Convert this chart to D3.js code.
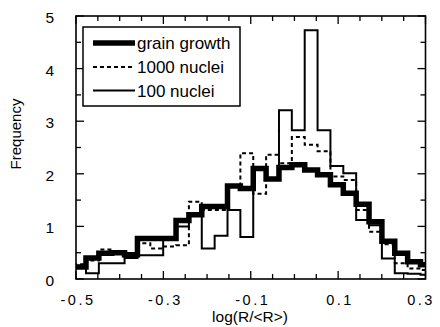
<!DOCTYPE html>
<html>
<head>
<meta charset="utf-8">
<script src="https://cdn.jsdelivr.net/npm/d3@7"></script>
<style>
  html, body { margin: 0; padding: 0; background: #fff; }
  svg { display: block; font-family: "Liberation Sans", Arial, Helvetica, sans-serif; }
</style>
</head>
<body>
<svg id="chart" width="440" height="327"></svg>
<script>
// Histogram bin layout (log(R/<R>) units)
const binStart = -0.5066;
const binWidth = 0.02945;

// Frequency per bin for each run
const grainGrowth = [0.23, 0.40, 0.49, 0.50, 0.46, 0.77, 0.77, 0.77, 1.11, 1.22,
                     1.38, 1.38, 1.77, 1.72, 2.10, 1.90, 2.12, 2.17, 2.07, 1.98,
                     1.79, 1.63, 1.42, 1.09, 0.72, 0.49, 0.33, 0.27];
const nuclei1000  = [0.28, 0.35, 0.56, 0.48, 0.42, 0.68, 0.58, 0.62, 0.64, 1.47,
                     1.31, 1.31, 1.78, 2.39, 1.62, 2.36, 2.20, 2.70, 2.55, 2.43,
                     1.95, 1.88, 1.31, 0.90, 0.66, 0.30, 0.20, 0.17];
const nuclei100   = [0.25, 0.11, 0.30, 0.30, 0.40, 0.45, 0.45, 0.76, 1.00, 1.25,
                     0.58, 0.82, 1.31, 0.80, 2.07, 1.90, 3.21, 2.83, 4.73, 2.83,
                     2.15, 2.01, 1.12, 1.02, 0.39, 0.11, 0.10, 0.08];

const seriesNames = ["grain growth", "1000 nuclei", "100 nuclei"];

// Axis ticks and labels
const xMinorTicks = [-0.45, -0.4, -0.35, -0.25, -0.2, -0.15, -0.05, 0, 0.05, 0.15, 0.2, 0.25];
const xMajorTicks = [-0.5, -0.3, -0.1, 0.1, 0.3];
const xTickLabels = ["-0.5", "-0.3", "-0.1", "0.1", "0.3"];
const yMajorTicks = [0, 1, 2, 3, 4, 5];
const yMinorTicks = [0.5, 1.5, 2.5, 3.5, 4.5];
const yTickLabels = ["0", "1", "2", "3", "4", "5"];

const svg = d3.select("#chart");
const plotL = 76, plotT = 16, plotR = 425.5, plotB = 279;

const x = d3.scaleLinear().domain([-0.5, 0.3]).range([plotL, plotR]);
const y = d3.scaleLinear().domain([0, 5]).range([plotB, plotT]);

svg.append("defs").append("clipPath").attr("id", "plotClip")
  .append("rect")
  .attr("x", plotL).attr("y", plotT)
  .attr("width", plotR - plotL).attr("height", plotB - plotT);

// Step outline of a histogram: left edge of each bin, plus the final right edge
function stepPoints(values) {
  const pts = values.map((v, i) => [binStart + i * binWidth, v]);
  pts.push([binStart + values.length * binWidth, values[values.length - 1]]);
  return pts;
}
const stepLine = d3.line()
  .x(d => x(d[0]))
  .y(d => y(d[1]))
  .curve(d3.curveStepAfter);

const plot = svg.append("g").attr("clip-path", "url(#plotClip)");

const styles = [
  { data: nuclei100,   width: 2,   dash: null },
  { data: nuclei1000,  width: 2,   dash: "4,3" },
  { data: grainGrowth, width: 5.5, dash: null }
];
styles.forEach(s => {
  plot.append("path")
    .attr("d", stepLine(stepPoints(s.data)))
    .attr("fill", "none")
    .attr("stroke", "#000")
    .attr("stroke-width", s.width)
    .attr("stroke-dasharray", s.dash)
    .attr("stroke-linejoin", "miter");
});

// Inward ticks on all four sides
const tickG = svg.append("g").attr("stroke", "#000").attr("stroke-width", 1.3);
function xTicks(vals, len) {
  vals.forEach(v => {
    tickG.append("line").attr("x1", x(v)).attr("x2", x(v)).attr("y1", plotB).attr("y2", plotB - len);
    tickG.append("line").attr("x1", x(v)).attr("x2", x(v)).attr("y1", plotT).attr("y2", plotT + len);
  });
}
function yTicks(vals, len) {
  vals.forEach(v => {
    tickG.append("line").attr("x1", plotL).attr("x2", plotL + len).attr("y1", y(v)).attr("y2", y(v));
    tickG.append("line").attr("x1", plotR).attr("x2", plotR - len).attr("y1", y(v)).attr("y2", y(v));
  });
}
xTicks(xMinorTicks, 5);
xTicks(xMajorTicks, 8);
yTicks(yMinorTicks, 5);
yTicks(yMajorTicks, 8);

// Frame
svg.append("rect")
  .attr("x", plotL).attr("y", plotT)
  .attr("width", plotR - plotL).attr("height", plotB - plotT)
  .attr("fill", "none").attr("stroke", "#000").attr("stroke-width", 1.6);

// Tick labels (the last one is nudged inward so it stays on the canvas)
svg.append("g").selectAll("text").data(xMajorTicks).join("text")
  .attr("x", d => Math.min(x(d) + 2, 421))
  .attr("y", 305)
  .attr("text-anchor", "middle")
  .attr("font-size", 14.5)
  .attr("letter-spacing", 2.5)
  .text((d, i) => xTickLabels[i]);

svg.append("g").selectAll("text").data(yMajorTicks).join("text")
  .attr("x", 54)
  .attr("y", d => y(d) + 7)
  .attr("text-anchor", "end")
  .attr("font-size", 15.5)
  .text((d, i) => yTickLabels[i]);

// Axis titles
svg.append("text")
  .attr("x", 250).attr("y", 322)
  .attr("text-anchor", "middle")
  .attr("font-size", 15.5)
  .text("log(R/<R>)");

svg.append("text")
  .attr("transform", "translate(21,134) rotate(-90)")
  .attr("text-anchor", "middle")
  .attr("font-size", 15)
  .text("Frequency");

// Legend
const legend = svg.append("g");
legend.append("rect")
  .attr("x", 83).attr("y", 27).attr("width", 157).attr("height", 79)
  .attr("fill", "#fff").attr("stroke", "#000").attr("stroke-width", 1.5);
const legendRows = [43, 67, 90.5];
const legendStyles = [styles[2], styles[1], styles[0]];
seriesNames.forEach((name, i) => {
  const s = legendStyles[i];
  legend.append("line")
    .attr("x1", 93).attr("x2", 135)
    .attr("y1", legendRows[i]).attr("y2", legendRows[i])
    .attr("stroke", "#000")
    .attr("stroke-width", s.width)
    .attr("stroke-dasharray", s.dash);
  legend.append("text")
    .attr("x", 137).attr("y", legendRows[i] + 6)
    .attr("font-size", 17)
    .text(name);
});
</script>
</body>
</html>
